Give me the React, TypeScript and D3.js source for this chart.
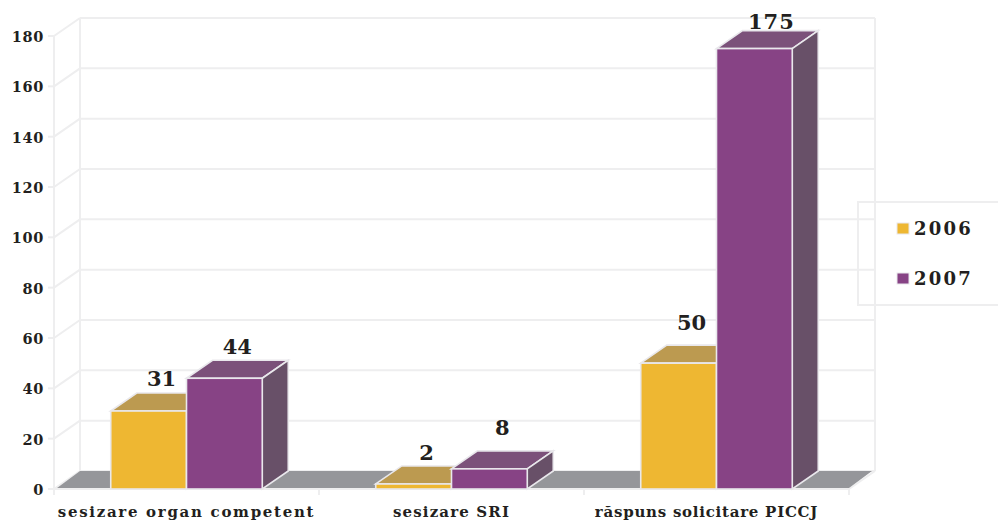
import React from "react";
import * as d3 from "d3";

const categories = ["sesizare organ competent", "sesizare SRI", "răspuns solicitare PICCJ"];
const seriesNames = ["2006", "2007"];
const values2006 = [31, 2, 50];
const values2007 = [44, 8, 175];
const yTicks = [0, 20, 40, 60, 80, 100, 120, 140, 160, 180];

const seriesColours = [
  { front: "#EEB732", top: "#BC9A50", side: "#8a7040" },
  { front: "#874385", top: "#7B517A", side: "#685068" },
];
const gridColour = "#EEEEEF";
const edgeColour = "#E9E8EC";
const textColour = "#231F20";
const fontFamily = "'DejaVu Serif', Georgia, serif";

// Chart frame and the oblique offset of the back wall.
const left = 54;
const right = 849;
const baseY = 489;
const topY = 36;
const depthX = 26;
const depthY = -18;

const x = d3.scaleBand<string>().domain(categories).range([left, right]);
const y = d3.scaleLinear().domain([0, 180]).range([baseY, topY]);

const groupWidth = 151.5;
const xSeries = d3
  .scaleBand<string>()
  .domain(seriesNames)
  .range([-groupWidth / 2, groupWidth / 2]);

const polygon = (pts: [number, number][]) => {
  const line = d3.line();
  return line(pts) + "Z";
};

// Vertical gap between the value label and the back edge of each bar's top.
const labelGaps = [
  [14, 13],
  [13, 23],
  [22, 9],
];

const categoryLabelShift = [0, 0, -10];
const categorySpacing = [1.7, 1.15, 0.75];

function Bar({ cx, value, colours, gap }: { cx: number; value: number; colours: (typeof seriesColours)[0]; gap: number }) {
  const w = xSeries.bandwidth();
  const t = y(value);
  const x1 = cx + w;
  return (
    <g>
      <path
        d={polygon([[cx, t], [cx + depthX, t + depthY], [x1 + depthX, t + depthY], [x1, t]])}
        fill={colours.top}
        stroke={edgeColour}
        strokeWidth={1.6}
      />
      <path
        d={polygon([[x1, t], [x1 + depthX, t + depthY], [x1 + depthX, baseY + depthY], [x1, baseY]])}
        fill={colours.side}
        stroke={edgeColour}
        strokeWidth={1.6}
      />
      <rect x={cx} y={t} width={w} height={baseY - t} fill={colours.front} stroke={edgeColour} strokeWidth={1.6} />
      <text
        x={cx + w / 2 + (value > 99 ? 17 : 13)}
        y={t + depthY - gap + 7}
        textAnchor="middle"
        fontFamily={fontFamily}
        fontWeight="bold"
        fontSize={21}
        letterSpacing={value > 99 ? 1 : 0}
        fill={textColour}
      >
        {value}
      </text>
    </g>
  );
}

export default function App() {
  const bandTicks = [...categories.map((c) => x(c) as number), right];
  return (
    <svg
      width={998}
      height={523}
      style={{ position: "absolute", left: 0, top: 0, display: "block", background: "#fff" }}
    >
      {/* back wall, left wall and horizontal grid */}
      <g fill="none" stroke={gridColour} strokeWidth={2}>
        <line x1={left} x2={left} y1={topY} y2={baseY} />
        <line x1={left + depthX} x2={left + depthX} y1={topY + depthY} y2={baseY + depthY} />
        <line x1={right + depthX} x2={right + depthX} y1={topY + depthY} y2={baseY + depthY} />
        {yTicks.map((t) => (
          <g key={t}>
            <line x1={left - 6} x2={left} y1={y(t)} y2={y(t)} />
            <line x1={left} x2={left + depthX} y1={y(t)} y2={y(t) + depthY} />
            <line x1={left + depthX} x2={right + depthX} y1={y(t) + depthY} y2={y(t) + depthY} />
          </g>
        ))}
        <line x1={left} x2={right} y1={baseY} y2={baseY} />
        <line x1={right} x2={right + depthX} y1={baseY} y2={baseY + depthY} />
        {bandTicks.map((b) => (
          <line key={b} x1={b} x2={b} y1={baseY} y2={baseY + 6} />
        ))}
      </g>

      {/* floor */}
      <path
        d={polygon([
          [left + 3, baseY - 1],
          [left + depthX, baseY + depthY],
          [right + depthX - 3, baseY + depthY],
          [right, baseY - 1],
        ])}
        fill="#95969A"
      />

      {/* legend frame */}
      <rect x={858} y={202} width={150} height={103} fill="none" stroke={gridColour} strokeWidth={2} />
      {seriesNames.map((name, i) => (
        <g key={name}>
          <rect
            x={897}
            y={223 + i * 50}
            width={12}
            height={11}
            fill={seriesColours[i].front}
            stroke={edgeColour}
            strokeWidth={1}
          />
          <text
            x={914}
            y={235 + i * 50}
            fontFamily={fontFamily}
            fontWeight="bold"
            fontSize={18}
            letterSpacing={2.2}
            fill={textColour}
          >
            {name}
          </text>
        </g>
      ))}

      {/* bars, drawn per category with the later series on top */}
      {categories.map((c, i) => {
        const mid = (x(c) as number) + x.bandwidth() / 2;
        return (
          <g key={c}>
            {[values2006[i], values2007[i]].map((v, s) => (
              <Bar
                key={s}
                cx={mid + (xSeries(seriesNames[s]) as number)}
                value={v}
                colours={seriesColours[s]}
                gap={labelGaps[i][s]}
              />
            ))}
          </g>
        );
      })}

      {/* value axis labels */}
      {yTicks.map((t) => (
        <text
          key={t}
          x={44}
          y={y(t) + 6}
          textAnchor="end"
          fontFamily={fontFamily}
          fontWeight="bold"
          fontSize={14.5}
          letterSpacing={0.7}
          fill={textColour}
        >
          {t}
        </text>
      ))}

      {/* category labels */}
      {categories.map((c, i) => (
        <text
          key={c}
          x={(x(c) as number) + x.bandwidth() / 2 + categoryLabelShift[i]}
          y={517}
          textAnchor="middle"
          fontFamily={fontFamily}
          fontWeight="bold"
          fontSize={15}
          letterSpacing={categorySpacing[i]}
          fill={textColour}
        >
          {c}
        </text>
      ))}
    </svg>
  );
}
